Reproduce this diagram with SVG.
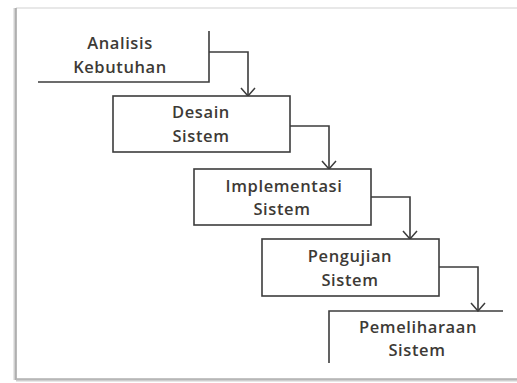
<svg xmlns="http://www.w3.org/2000/svg" width="517" height="383" viewBox="0 0 517 383">
<defs>
<marker id="arr" markerWidth="10" markerHeight="16" refX="9" refY="8" orient="auto" markerUnits="userSpaceOnUse" viewBox="0 0 10 16">
<path d="M1,1 L9,8 L1,15" fill="none" stroke="#3c3c3c" stroke-width="1.5"/>
</marker>
</defs>
<style>
.box{fill:#ffffff;stroke:#3c3c3c;stroke-width:1.6}
.ln{fill:none;stroke:#3c3c3c;stroke-width:1.6}
.t{font-family:"Open Sans","Liberation Sans",sans-serif;font-weight:600;font-size:16.5px;letter-spacing:0.6px;fill:#3d3a36;text-anchor:middle}
</style>
<rect width="517" height="383" fill="#ffffff"/>
<g id="frame">
<line x1="16" y1="8" x2="517" y2="8" stroke="#e0e0e0" stroke-width="1.5"/>
<line x1="15" y1="8" x2="15" y2="380" stroke="#d0d0d0" stroke-width="3"/>
<line x1="16" y1="8" x2="16" y2="380" stroke="#9a9a9a" stroke-width="1.2"/>
<line x1="16" y1="380" x2="517" y2="380" stroke="#cfcfcf" stroke-width="3"/>
<line x1="16" y1="379" x2="517" y2="379" stroke="#a0a0a0" stroke-width="1.2"/>
</g>
<g id="connectors">
<path class="ln" d="M209,52 H248 V96" marker-end="url(#arr)"/>
<path class="ln" d="M290,126 H329 V169" marker-end="url(#arr)"/>
<path class="ln" d="M371,197 H410 V239" marker-end="url(#arr)"/>
<path class="ln" d="M439,267 H478 V311" marker-end="url(#arr)"/>
</g>
<g id="analisis">
<path class="ln" d="M38,82 H209 V31"/>
<text class="t" x="120" y="49">Analisis</text>
<text class="t" x="120" y="73">Kebutuhan</text>
</g>
<g id="desain">
<rect class="box" x="113" y="96" width="177" height="56"/>
<text class="t" x="201" y="118">Desain</text>
<text class="t" x="201" y="142">Sistem</text>
</g>
<g id="implementasi">
<rect class="box" x="194" y="169" width="177" height="56"/>
<text class="t" x="284" y="192">Implementasi</text>
<text class="t" x="282" y="215">Sistem</text>
</g>
<g id="pengujian">
<rect class="box" x="262" y="239" width="177" height="57"/>
<text class="t" x="350" y="262">Pengujian</text>
<text class="t" x="350" y="286">Sistem</text>
</g>
<g id="pemeliharaan">
<path class="ln" d="M503,311 H329 V363"/>
<text class="t" x="418" y="333">Pemeliharaan</text>
<text class="t" x="417" y="356">Sistem</text>
</g>
</svg>
